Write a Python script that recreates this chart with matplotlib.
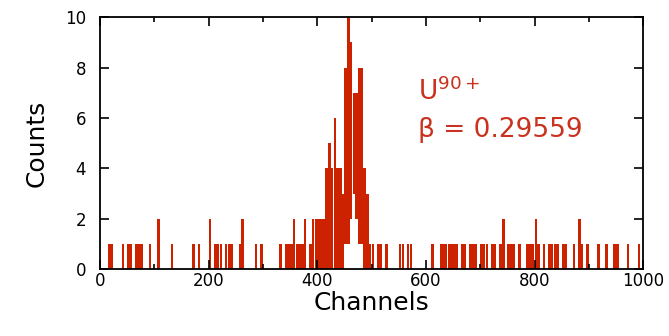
import numpy as np
import matplotlib
matplotlib.use("Agg")
import matplotlib.pyplot as plt

# histogram bins (left edge in channels, 5-channel bins) and counts
bin_left = [15, 20, 40, 50, 55, 65, 70, 75, 90, 105, 130, 170, 180,
            200, 210, 215, 220, 230, 235, 240, 255, 260, 285, 295,
            330, 340, 345, 350, 355, 360, 365, 370, 375, 385, 390,
            395, 400, 405, 410, 415, 420, 425, 430, 435, 440, 445,
            450, 455, 460, 465, 470, 475, 480, 485, 490, 495, 500,
            510, 515, 525, 550, 555, 565, 570, 610, 625, 630, 635,
            640, 645, 650, 655, 665, 670, 680, 685, 690, 700, 705,
            710, 720, 725, 735, 740, 750, 755, 760, 770, 785, 790,
            795, 800, 805, 815, 825, 830, 835, 840, 850, 855, 870,
            880, 885, 895, 915, 930, 945, 950, 970, 990]
counts = [1, 1, 1, 1, 1, 1, 1, 1, 1, 2, 1, 1, 1,
          2, 1, 1, 1, 1, 1, 1, 1, 2, 1, 1,
          1, 1, 1, 1, 2, 1, 1, 1, 2, 1, 2,
          2, 2, 2, 2, 4, 5, 4, 6, 4, 4, 3,
          8, 10, 9, 7, 7, 8, 8, 4, 3, 1, 1,
          1, 1, 1, 1, 1, 1, 1, 1, 1, 1, 1,
          1, 1, 1, 1, 1, 1, 1, 1, 1, 1, 1,
          1, 1, 1, 1, 2, 1, 1, 1, 1, 1, 1,
          1, 2, 1, 1, 1, 1, 1, 1, 1, 1, 1,
          2, 1, 1, 1, 1, 1, 1, 1, 1]

# white gap at the bottom of the peak (bin left edge -> gap top)
gap_bins = [450, 455, 460, 465, 470, 475, 480]
gap_tops = [1, 1, 2, 3, 2, 1, 1]

bar_red = "#cc2200"
text_red = "#c8321e"

bottoms = np.zeros(len(bin_left))
for b, g in zip(gap_bins, gap_tops):
    bottoms[bin_left.index(b)] = g

fig = plt.figure(figsize=(6.69, 3.36), dpi=100)
ax = fig.add_axes([0.1495, 0.199, 0.812, 0.75])

ax.bar(bin_left, np.array(counts) - bottoms, bottom=bottoms, width=4.6,
       align="edge", color=bar_red, linewidth=0)

ax.set_xlim(0, 1000)
ax.set_ylim(0, 10)
ax.set_xticks(range(0, 1001, 200))
ax.set_xticks(range(0, 1001, 100), minor=True)
ax.set_yticks(range(0, 11, 2))
ax.tick_params(which="both", direction="in", top=True, right=True,
               width=1.2, labelsize=12)
ax.tick_params(which="major", length=6.5)
ax.tick_params(which="minor", length=3.5)
ax.tick_params(axis="x", pad=2)
ax.tick_params(axis="y", pad=10)
for s in ax.spines.values():
    s.set_linewidth(1.3)

ax.set_xlabel("Channels", fontsize=18, labelpad=1)
ax.set_ylabel("Counts", fontsize=18, labelpad=12)

ax.text(0.586, 0.67, "U$^{90+}$", transform=ax.transAxes,
        color=text_red, fontsize=19)
ax.text(0.586, 0.524, "\u03b2 = 0.29559", transform=ax.transAxes,
        color=text_red, fontsize=19)

fig.savefig("out.png", dpi=100)
